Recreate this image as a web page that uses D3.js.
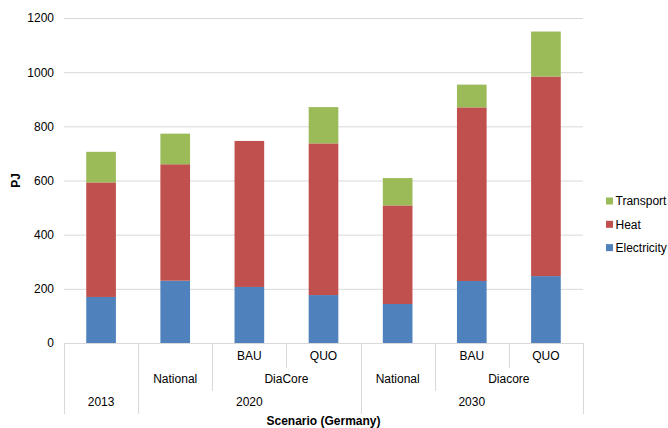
<!DOCTYPE html>
<html>
<head>
<meta charset="utf-8">
<script src="https://cdn.jsdelivr.net/npm/d3@7"></script>
<style>
  html, body { margin: 0; padding: 0; background: #fff; }
  svg { display: block; font-family: "Liberation Sans", Arial, sans-serif; }
</style>
</head>
<body>
<svg id="chart" width="668" height="428"></svg>
<script>
// Three-level category labels (innermost first)
const level1 = ["", "", "BAU", "QUO", "", "BAU", "QUO"];
const level2 = ["", "National", "DiaCore", "DiaCore", "National", "Diacore", "Diacore"];
const level3 = ["2013", "2020", "2020", "2020", "2030", "2030", "2030"];

// Energy demand by sector, PJ
const electricity = [170, 230, 207, 177, 144, 229, 247];
const heat        = [423, 430, 539, 560, 364, 641, 737];
const transport   = [113, 113, 0, 134, 101, 84, 166];

const seriesNames = ["Electricity", "Heat", "Transport"];
const seriesColors = ["#4f81bd", "#c0504d", "#9bbb59"];
const yTicks = [0, 200, 400, 600, 800, 1000, 1200];

(function () {
  const svg = d3.select("#chart");
  const plotLeft = 64, plotRight = 583, plotTop = 18, plotBottom = 343;
  const rowH = 23;

  const idx = d3.range(level1.length);
  const x = d3.scaleBand().domain(idx).range([plotLeft, plotRight]).paddingInner(0).paddingOuter(0);
  const y = d3.scaleLinear().domain([0, 1200]).range([plotBottom, plotTop]);

  // Gridlines and y tick labels
  const yAxis = d3.axisLeft(y).tickValues(yTicks).tickSize(-(plotRight - plotLeft)).tickPadding(10).tickFormat(d3.format("d"));
  const gy = svg.append("g").attr("transform", `translate(${plotLeft},0)`).call(yAxis);
  gy.select(".domain").remove();
  gy.selectAll(".tick line").attr("stroke", "#d9d9d9").attr("stroke-width", 1);
  gy.selectAll(".tick text").attr("font-size", 12).attr("fill", "#000")
    .attr("font-family", "'Liberation Sans', Arial, sans-serif");

  // Stacked bars
  const rows = idx.map(i => ({ i, Electricity: electricity[i], Heat: heat[i], Transport: transport[i] }));
  const stacked = d3.stack().keys(seriesNames)(rows);
  const barW = x.bandwidth() * 0.4;
  svg.append("g").selectAll("g").data(stacked).join("g")
    .attr("fill", (d, k) => seriesColors[k])
    .selectAll("rect").data(d => d).join("rect")
    .attr("x", d => x(d.data.i) + (x.bandwidth() - barW) / 2)
    .attr("width", barW)
    .attr("y", d => y(d[1]))
    .attr("height", d => Math.max(0, y(d[0]) - y(d[1])));

  // Category axis line
  const axisG = svg.append("g").attr("stroke", "#d9d9d9").attr("stroke-width", 1);
  axisG.append("line").attr("x1", plotLeft).attr("x2", plotRight).attr("y1", plotBottom + 0.5).attr("y2", plotBottom + 0.5);

  // Separators: depth depends on the outermost level that changes
  const levels = [level1, level2, level3];
  const boundaries = [plotLeft, ...idx.slice(1).map(i => x(i)), plotRight];
  boundaries.forEach((bx, b) => {
    let depth = 3;
    if (b > 0 && b < idx.length) {
      const a = b - 1, c = b;
      if (level3[a] !== level3[c]) depth = 3;
      else if (level2[a] !== level2[c]) depth = 2;
      else depth = 1;
    }
    axisG.append("line")
      .attr("x1", Math.round(bx) + 0.5).attr("x2", Math.round(bx) + 0.5)
      .attr("y1", plotBottom).attr("y2", plotBottom + depth * rowH + 2);
  });

  // Category labels, grouped per level
  const labelG = svg.append("g").attr("font-size", 12).attr("fill", "#000").attr("text-anchor", "middle");
  levels.forEach((lev, L) => {
    let start = 0;
    for (let i = 1; i <= lev.length; i++) {
      const same = i < lev.length && lev[i] === lev[start] &&
        levels.slice(L).every(l => l[i] === l[start]);
      if (!same) {
        if (lev[start] !== "") {
          const cx = (x(start) + x(i - 1) + x.bandwidth()) / 2;
          labelG.append("text").attr("x", cx).attr("y", plotBottom + L * rowH + 16.5).text(lev[start]);
        }
        start = i;
      }
    }
  });

  // Axis titles
  svg.append("text").attr("x", (plotLeft + plotRight) / 2).attr("y", 425)
    .attr("text-anchor", "middle").attr("font-size", 12).attr("font-weight", "bold")
    .text("Scenario (Germany)");
  svg.append("text").attr("transform", `translate(20,${(plotTop + plotBottom) / 2}) rotate(-90)`)
    .attr("text-anchor", "middle").attr("font-size", 12).attr("font-weight", "bold")
    .text("PJ");

  // Legend (top entry is the top of the stack)
  const legend = svg.append("g").attr("font-size", 12);
  [2, 1, 0].forEach((k, j) => {
    const cy = 201 + j * 23.3;
    legend.append("rect").attr("x", 606).attr("y", cy - 3.5).attr("width", 7).attr("height", 7).attr("fill", seriesColors[k]);
    legend.append("text").attr("x", 615.5).attr("y", cy + 4.3).text(seriesNames[k]);
  });
})();
</script>
</body>
</html>
